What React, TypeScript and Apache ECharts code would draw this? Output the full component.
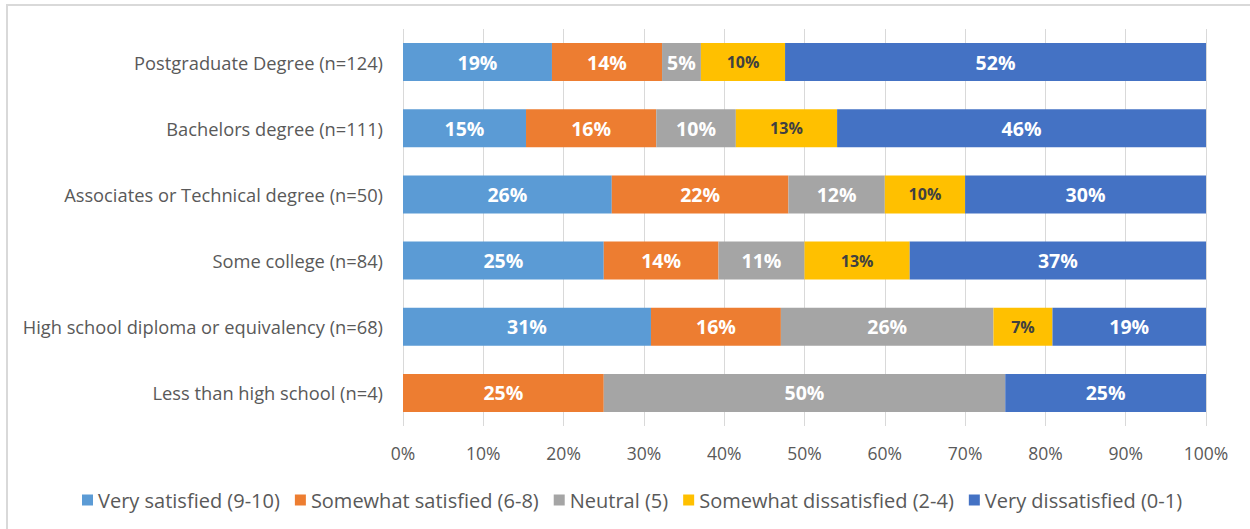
import React, { useEffect, useRef } from "react";
import * as echarts from "echarts";

const categories = [
  "Postgraduate Degree (n=124)",
  "Bachelors degree (n=111)",
  "Associates or Technical degree (n=50)",
  "Some college (n=84)",
  "High school diploma or equivalency (n=68)",
  "Less than high school (n=4)",
];

const seriesNames = [
  "Very satisfied (9-10)",
  "Somewhat satisfied (6-8)",
  "Neutral (5)",
  "Somewhat dissatisfied (2-4)",
  "Very dissatisfied (0-1)",
];

const verySatisfied = [18.55, 15.32, 26.0, 25.0, 30.88, 0];
const somewhatSatisfied = [13.71, 16.22, 22.0, 14.29, 16.18, 25.0];
const neutral = [4.84, 9.91, 12.0, 10.71, 26.47, 50.0];
const somewhatDissatisfied = [10.48, 12.61, 10.0, 13.1, 7.35, 0];
const veryDissatisfied = [52.42, 45.95, 30.0, 36.9, 19.12, 25.0];

const xTicks = [0, 10, 20, 30, 40, 50, 60, 70, 80, 90, 100];

const colors = ["#5B9BD5", "#ED7D31", "#A5A5A5", "#FFC000", "#4472C4"];

const FONT = "'Open Sans', 'Noto Sans', sans-serif";

export default function App() {
  const ref = useRef<HTMLDivElement>(null);

  useEffect(() => {
    if (!ref.current) return;
    const chart = echarts.init(ref.current, null, { renderer: "svg" });
    const values = [verySatisfied, somewhatSatisfied, neutral, somewhatDissatisfied, veryDissatisfied];
    const series = values.map((data, i) => ({
      name: seriesNames[i],
      type: "bar",
      stack: "total",
      barWidth: 38,
      data,
      itemStyle: { color: colors[i] },
      label: {
        show: true,
        position: "inside",
        fontFamily: FONT,
        fontWeight: "bold",
        fontSize: i === 3 ? 16 : 19.5,
        color: i === 3 ? "#404040" : "#ffffff",
        formatter: (p: any) => (p.value > 0 ? Math.round(p.value) + "%" : ""),
      },
    }));
    chart.setOption({
      animation: false,
      textStyle: { fontFamily: FONT },
      graphic: [
        {
          type: "rect",
          shape: { x: 7, y: 5, width: 1300, height: 600 },
          style: { fill: "none", stroke: "#d9d9d9", lineWidth: 2 },
          silent: true,
        },
      ],
      grid: { left: 403, right: 44, top: 29, bottom: 103, containLabel: false },
      legend: {
        top: 485,
        left: 77,
        itemWidth: 11,
        itemHeight: 11,
        itemGap: 15,
        icon: "rect",
        textStyle: { color: "#595959", fontSize: 20, fontFamily: FONT },
        data: seriesNames,
      },
      xAxis: {
        type: "value",
        min: xTicks[0],
        max: xTicks[xTicks.length - 1],
        interval: 10,
        axisLine: { show: false },
        axisTick: { show: false },
        axisLabel: {
          color: "#595959",
          fontSize: 17.5,
          margin: 18,
          formatter: (v: number) => v + "%",
        },
        splitLine: { lineStyle: { color: "#d9d9d9", width: 1 } },
      },
      yAxis: {
        type: "category",
        inverse: true,
        data: categories,
        axisLine: { show: false },
        axisTick: { show: false },
        axisLabel: { color: "#595959", fontSize: 18.3, margin: 20 },
      },
      series,
    });
    return () => chart.dispose();
  }, []);

  return (
    <div
      ref={ref}
      style={{ position: "fixed", left: 0, top: 0, width: 1250, height: 529, background: "#fff" }}
    />
  );
}
